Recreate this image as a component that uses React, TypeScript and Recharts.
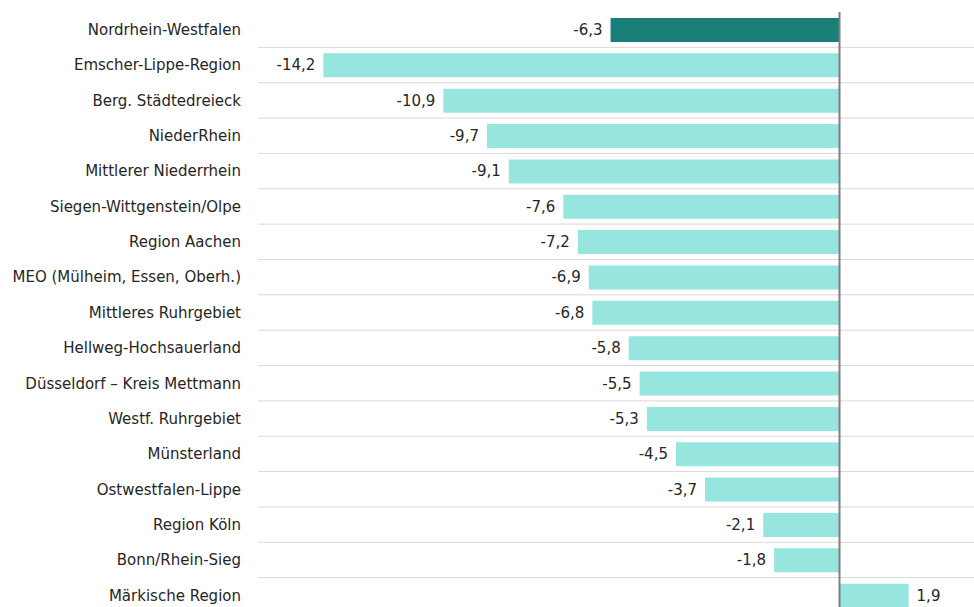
import { BarChart, Bar, XAxis, YAxis, CartesianGrid, ReferenceLine, LabelList, Cell } from "recharts";

const regions = [
  "Nordrhein-Westfalen",
  "Emscher-Lippe-Region",
  "Berg. Städtedreieck",
  "NiederRhein",
  "Mittlerer Niederrhein",
  "Siegen-Wittgenstein/Olpe",
  "Region Aachen",
  "MEO (Mülheim, Essen, Oberh.)",
  "Mittleres Ruhrgebiet",
  "Hellweg-Hochsauerland",
  "Düsseldorf – Kreis Mettmann",
  "Westf. Ruhrgebiet",
  "Münsterland",
  "Ostwestfalen-Lippe",
  "Region Köln",
  "Bonn/Rhein-Sieg",
  "Märkische Region",
];

const changes = [-6.3, -14.2, -10.9, -9.7, -9.1, -7.6, -7.2, -6.9, -6.8, -5.8, -5.5, -5.3, -4.5, -3.7, -2.1, -1.8, 1.9];

const data = regions.map((name, i) => ({ name, value: changes[i] }));

const FONT = "'DejaVu Sans', sans-serif";

// value label outside the bar end, comma decimal
const ValueLabel = (props: any) => {
  const { x, y, width, height, value } = props;
  const left = Math.min(x, x + width);
  const right = Math.max(x, x + width);
  const neg = value < 0;
  return (
    <text
      x={neg ? left - 8 : right + 8}
      y={y + height / 2}
      textAnchor={neg ? "end" : "start"}
      dominantBaseline="central"
      fill="#262626"
      fontSize={15}
      fontFamily={FONT}
    >
      {value.toFixed(1).replace(".", ",")}
    </text>
  );
};

export default function App() {
  return (
    <div style={{ position: "absolute", left: 0, top: 0, width: 974, height: 607, overflow: "hidden", background: "#fff" }}>
      <BarChart
        width={974}
        height={613}
        data={data}
        layout="vertical"
        margin={{ top: 12, right: 0, bottom: 0, left: 0 }}
      >
        <CartesianGrid
          vertical={false}
          stroke="#d9d9d9"
          horizontalCoordinatesGenerator={({ offset }: any) => {
            const band = offset.height / regions.length;
            return regions.slice(1).map((_, k) => offset.top + (k + 1) * band);
          }}
        />
        <XAxis type="number" domain={[-16, 3.7]} hide />
        <YAxis
          type="category"
          dataKey="name"
          width={258}
          axisLine={false}
          tickLine={false}
          tickMargin={11}
          interval={0}
          tick={{ fill: "#262626", fontSize: 15, fontFamily: FONT }}
        />
        <Bar dataKey="value" barSize={24} isAnimationActive={false}>
          {data.map((d, i) => (
            <Cell key={d.name} fill={i === 0 ? "#1a7f78" : "#96e6df"} />
          ))}
          <LabelList dataKey="value" content={<ValueLabel />} />
        </Bar>
        <ReferenceLine x={0} stroke="#7f7f7f" strokeWidth={2} />
      </BarChart>
    </div>
  );
}
